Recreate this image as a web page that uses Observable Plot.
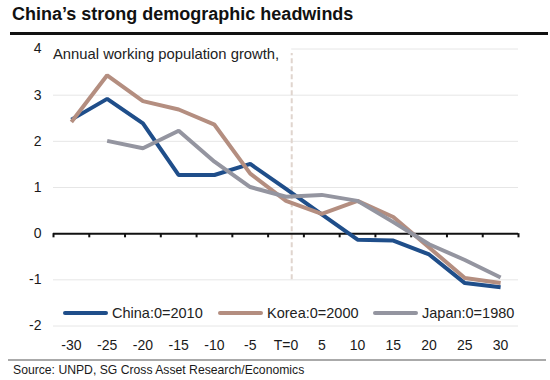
<!DOCTYPE html>
<html>
<head>
<meta charset="utf-8">
<script src="https://cdn.jsdelivr.net/npm/d3@7"></script>
<script src="https://cdn.jsdelivr.net/npm/@observablehq/plot@0.6"></script>
<style>
  html, body { margin: 0; padding: 0; background: #fff; }
  #wrap { position: relative; width: 550px; height: 380px; overflow: hidden; font-family: "Liberation Sans", Arial, sans-serif; }
  #title { position: absolute; left: 12px; top: 4px; font-size: 18px; font-weight: bold; color: #111; white-space: nowrap; }
  #rule { position: absolute; left: 10px; right: 2px; top: 32px; height: 3px; background: #111; }
  #chart { position: absolute; left: 0; top: 38px; }
  #note { position: absolute; left: 53px; top: 46px; font-size: 14.8px; color: #222; white-space: nowrap; }
  #legend { position: absolute; top: 304px; left: 0; font-size: 14.5px; color: #222; }
  .item { position: absolute; top: 0; white-space: nowrap; display: flex; align-items: center; height: 18px; }
  .sw { display: inline-block; width: 45px; height: 4px; border-radius: 2px; margin-right: 4px; }
  #sep { position: absolute; left: 8px; right: 4px; top: 359px; height: 2px; background: #aaa; }
  #source { position: absolute; left: 13px; top: 363px; font-size: 12.2px; color: #1a1a1a; white-space: nowrap; }
</style>
</head>
<body>
<div id="wrap">
  <div id="title">China’s strong demographic headwinds</div>
  <div id="rule"></div>
  <div id="chart"></div>
  <div id="note">Annual working population growth,</div>
  <div id="legend"></div>
  <div id="sep"></div>
  <div id="source">Source: UNPD, SG Cross Asset Research/Economics</div>
</div>
<script>
// Horizon T (years relative to base year)
const years = [-30, -25, -20, -15, -10, -5, 0, 5, 10, 15, 20, 25, 30];
const xTickLabels = ["-30", "-25", "-20", "-15", "-10", "-5", "T=0", "5", "10", "15", "20", "25", "30"];
const yTicks = [-2, -1, 0, 1, 2, 3, 4];

const seriesNames = ["China:0=2010", "Korea:0=2000", "Japan:0=1980"];
const seriesColors = ["#1f4e8a", "#b48e80", "#9495a0"];

const china = [2.47, 2.92, 2.39, 1.27, 1.27, 1.51, 0.97, 0.42, -0.13, -0.15, -0.45, -1.07, -1.16];
const korea = [2.42, 3.43, 2.87, 2.69, 2.36, 1.30, 0.71, 0.43, 0.71, 0.36, -0.30, -0.96, -1.07];
const japan = [null, 2.01, 1.85, 2.23, 1.56, 1.01, 0.80, 0.84, 0.71, 0.25, -0.23, -0.57, -0.95];

const dashedAt = 0.8;           // vertical reference line position (years)
const gridValues = [-2, -1, 1, 2, 3];
const topGrid = 4;

const rows = [];
[china, korea, japan].forEach((vals, i) => {
  vals.forEach((v, j) => { if (v != null) rows.push({series: seriesNames[i], t: years[j], v}); });
});
const boundaries = d3.range(years.length + 1).map(i => years[0] - 2.5 + 5 * i);
const labelOf = new Map(years.map((y, i) => [y, xTickLabels[i]]));

const chart = Plot.plot({
  width: 550,
  height: 318,
  marginLeft: 53,
  marginRight: 32,
  marginTop: 10.5,
  marginBottom: 30.5,
  style: {fontFamily: "'Liberation Sans', Arial, sans-serif", fontSize: "14px", color: "#1a1a1a", background: "transparent"},
  x: {type: "linear", domain: [-32.5, 32.5]},
  y: {domain: [-2, 4]},
  color: {domain: seriesNames, range: seriesColors},
  marks: [
    Plot.ruleY(gridValues, {stroke: "#e6e6e6", strokeWidth: 1}),
    Plot.ruleY([topGrid], {x1: dashedAt, x2: 32.5, stroke: "#e6e6e6", strokeWidth: 1}),
    Plot.ruleX([dashedAt], {y1: -1, y2: 3.9, stroke: "#e0d5ce", strokeWidth: 2, strokeDasharray: "5,3"}),
    Plot.ruleY([0], {stroke: "#111", strokeWidth: 2}),
    Plot.ruleX(boundaries, {y1: 0, y2: -0.09, stroke: "#111", strokeWidth: 2}),
    Plot.line(rows, {x: "t", y: "v", z: "series", stroke: "series", strokeWidth: 4, strokeLinejoin: "miter", strokeLinecap: "butt"}),
    Plot.axisX(years, {tickSize: 0, tickPadding: 14, tickFormat: d => labelOf.get(d), label: null, fontSize: 14}),
    Plot.axisY(yTicks, {tickSize: 0, tickPadding: 12, tickFormat: d => String(d), label: null, fontSize: 14})
  ]
});
document.getElementById("chart").appendChild(chart);

// Legend
const legendX = [63, 218, 373];
const legend = document.getElementById("legend");
seriesNames.forEach((name, i) => {
  const it = document.createElement("div");
  it.className = "item";
  it.style.left = legendX[i] + "px";
  const sw = document.createElement("span");
  sw.className = "sw";
  sw.style.background = seriesColors[i];
  it.appendChild(sw);
  it.appendChild(document.createTextNode(name));
  legend.appendChild(it);
});
</script>
</body>
</html>
